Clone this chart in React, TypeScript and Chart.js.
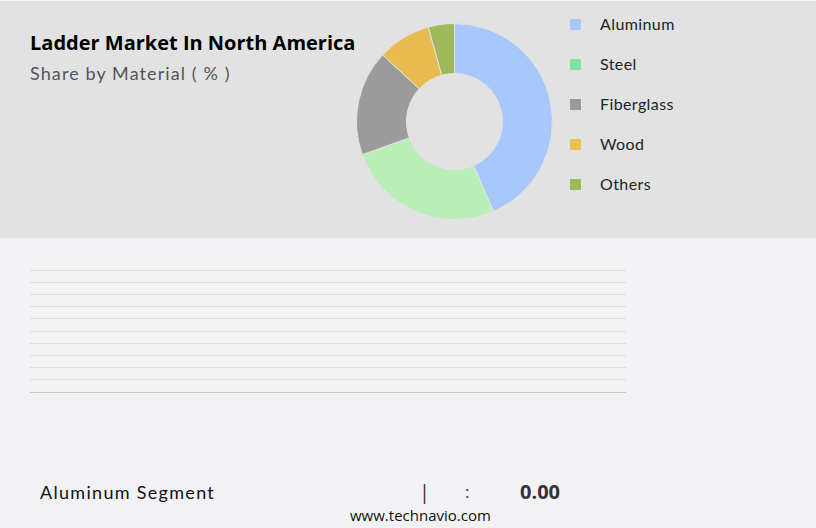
import React, { useEffect, useRef } from "react";
import { Chart, registerables } from "chart.js";

Chart.register(...registerables);

const materials = ["Aluminum", "Steel", "Fiberglass", "Wood", "Others"];
const shares = [43.5, 26.0, 17.4, 8.8, 4.3];
const sliceColors = ["#a8c8fc", "#b9eeb9", "#9b9b9b", "#e7bb50", "#9fb95a"];
const legendColors = ["#a8c8fc", "#7be59b", "#9b9b9b", "#e7c250", "#9fb95a"];
const gridRows = [0, 1, 2, 3, 4, 5, 6, 7, 8, 9, 10];

const legendFont = "'Lato', 'DejaVu Sans', sans-serif";

export default function App() {
  const donutRef = useRef<HTMLCanvasElement>(null);
  const gridRef = useRef<HTMLCanvasElement>(null);

  useEffect(() => {
    const donut = new Chart(donutRef.current!, {
      type: "doughnut",
      data: {
        labels: materials,
        datasets: [
          {
            data: shares,
            backgroundColor: sliceColors,
            borderColor: "#e2e2e2",
            borderWidth: 1,
          },
        ],
      },
      options: {
        animation: false,
        responsive: false,
        cutout: "49%",
        layout: { padding: 0 },
        plugins: { legend: { display: false }, tooltip: { enabled: false } },
      },
    });

    const grid = new Chart(gridRef.current!, {
      type: "bar",
      data: { labels: [""], datasets: [{ data: [], backgroundColor: "#000" }] },
      options: {
        animation: false,
        responsive: false,
        layout: { padding: { top: 1, bottom: 1, left: 0, right: 0 } },
        plugins: { legend: { display: false }, tooltip: { enabled: false } },
        scales: {
          x: {
            display: true,
            grid: { display: false, drawTicks: false },
            ticks: { display: false },
            border: { display: true, color: "#c8c8c8", width: 1 },
          },
          y: {
            min: gridRows[0],
            max: gridRows[gridRows.length - 1],
            ticks: { display: false, stepSize: 1 },
            grid: { color: "#dcdcdc", drawTicks: false, lineWidth: 1 },
            border: { display: false },
          },
        },
      },
    });

    return () => {
      donut.destroy();
      grid.destroy();
    };
  }, []);

  return (
    <div
      style={{
        position: "fixed",
        left: 0,
        top: 0,
        width: 816,
        height: 528,
        background: "#f2f2f4",
        overflow: "hidden",
      }}
    >
      <div
        style={{
          position: "absolute",
          left: 0,
          top: 1,
          width: 816,
          height: 237,
          background: "#e2e2e2",
        }}
      />
      <div
        style={{
          position: "absolute",
          left: 30,
          top: 29,
          fontFamily: "'Open Sans', sans-serif",
          fontWeight: 700,
          fontSize: 20,
          color: "#000",
          whiteSpace: "nowrap",
        }}
      >
        Ladder Market In North America
      </div>
      <div
        style={{
          position: "absolute",
          left: 30,
          top: 62,
          fontFamily: legendFont,
          fontSize: 18,
          letterSpacing: 1.1,
          color: "#555",
          whiteSpace: "nowrap",
        }}
      >
        Share by Material ( % )
      </div>
      <canvas
        ref={donutRef}
        width={197}
        height={197}
        style={{ position: "absolute", left: 356, top: 23, width: 197, height: 197 }}
      />
      <div style={{ position: "absolute", left: 570, top: 14 }}>
        {materials.map((m, i) => (
          <div key={m} style={{ height: 40, position: "relative" }}>
            <span
              style={{
                position: "absolute",
                left: 0,
                top: 5,
                width: 11,
                height: 11,
                background: legendColors[i],
              }}
            />
            <span
              style={{
                position: "absolute",
                left: 30,
                top: 0,
                fontFamily: legendFont,
                fontSize: 16,
                letterSpacing: 0.4,
                color: "#222",
                whiteSpace: "nowrap",
              }}
            >
              {m}
            </span>
          </div>
        ))}
      </div>
      <canvas
        ref={gridRef}
        width={596}
        height={124}
        style={{ position: "absolute", left: 30, top: 269, width: 596, height: 124 }}
      />
      <div
        style={{
          position: "absolute",
          left: 40,
          top: 481,
          fontFamily: legendFont,
          fontSize: 18,
          letterSpacing: 1.3,
          color: "#111",
          whiteSpace: "nowrap",
        }}
      >
        {materials[0]} Segment
      </div>
      <div
        style={{
          position: "absolute",
          left: 419,
          top: 478,
          fontFamily: "'Open Sans', sans-serif",
          fontSize: 20,
          color: "#333",
        }}
      >
        |
      </div>
      <div
        style={{
          position: "absolute",
          left: 465,
          top: 480,
          fontFamily: "'Open Sans', sans-serif",
          fontSize: 17,
          color: "#333",
        }}
      >
        :
      </div>
      <div
        style={{
          position: "absolute",
          left: 520,
          top: 478,
          fontFamily: "'Open Sans', sans-serif",
          fontWeight: 700,
          fontSize: 20,
          color: "#333",
        }}
      >
        0.00
      </div>
      <div
        style={{
          position: "absolute",
          left: 350,
          top: 505,
          fontFamily: "'Open Sans', sans-serif",
          fontSize: 15,
          color: "#111",
          whiteSpace: "nowrap",
        }}
      >
        www.technavio.com
      </div>
    </div>
  );
}
